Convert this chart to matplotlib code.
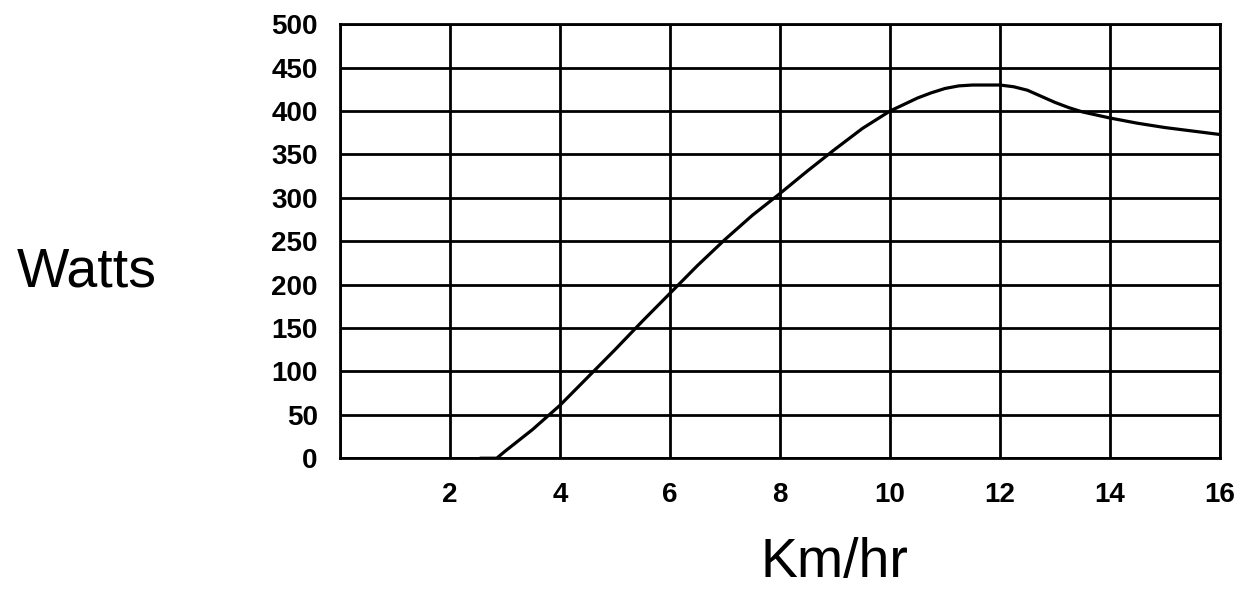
import matplotlib
matplotlib.use("Agg")
import matplotlib.pyplot as plt

# speed (km/hr) vs power (watts)
speed = [2.55, 2.85, 3.0, 3.5, 4.0, 4.5, 5.0, 5.5, 6.0, 6.5, 7.0, 7.5, 8.0, 8.5,
         9.0, 9.5, 10.0, 10.5, 10.75, 11.0, 11.25, 11.5, 11.75, 12.0, 12.25,
         12.5, 12.75, 13.0, 13.25, 13.5, 14.0, 14.5, 15.0, 15.5, 16.0]
watts = [0, 0, 8, 33, 61, 93, 125, 158, 190, 222, 252, 280, 305, 331,
         356, 380, 400, 415, 421, 426, 429, 430, 430, 430, 428,
         424, 417, 410, 404, 399, 392, 386, 381, 377, 373]

x_ticks = [2, 4, 6, 8, 10, 12, 14, 16]
y_ticks = [0, 50, 100, 150, 200, 250, 300, 350, 400, 450, 500]

plt.rcParams["font.family"] = ["Liberation Sans", "DejaVu Sans"]

fig = plt.figure(figsize=(12.41, 5.92), dpi=100)
ax = fig.add_axes([0.274, 0.226, 0.709, 0.733])

ax.plot(speed, watts, color="black", lw=2.3, zorder=3, solid_capstyle="round")

ax.set_xlim(0, 16)
ax.set_ylim(0, 500)
ax.set_xticks(x_ticks)
ax.set_yticks(y_ticks)
ax.set_xticks(range(0, 17, 2), minor=True)
ax.grid(True, which="both", color="black", lw=2)
ax.tick_params(which="both", length=0)
ax.tick_params(axis="x", pad=17, labelsize=20)
ax.tick_params(axis="y", pad=16, labelsize=20)
for lab in ax.get_xticklabels() + ax.get_yticklabels():
    lab.set_fontweight("bold")
for s in ax.spines.values():
    s.set_linewidth(2)

fig.text(0.070, 0.54, "Watts", fontsize=40, ha="center", va="center")
fig.text(0.672, 0.026, "Km/hr", fontsize=40, ha="center", va="baseline")

fig.savefig("out.png", dpi=100)
